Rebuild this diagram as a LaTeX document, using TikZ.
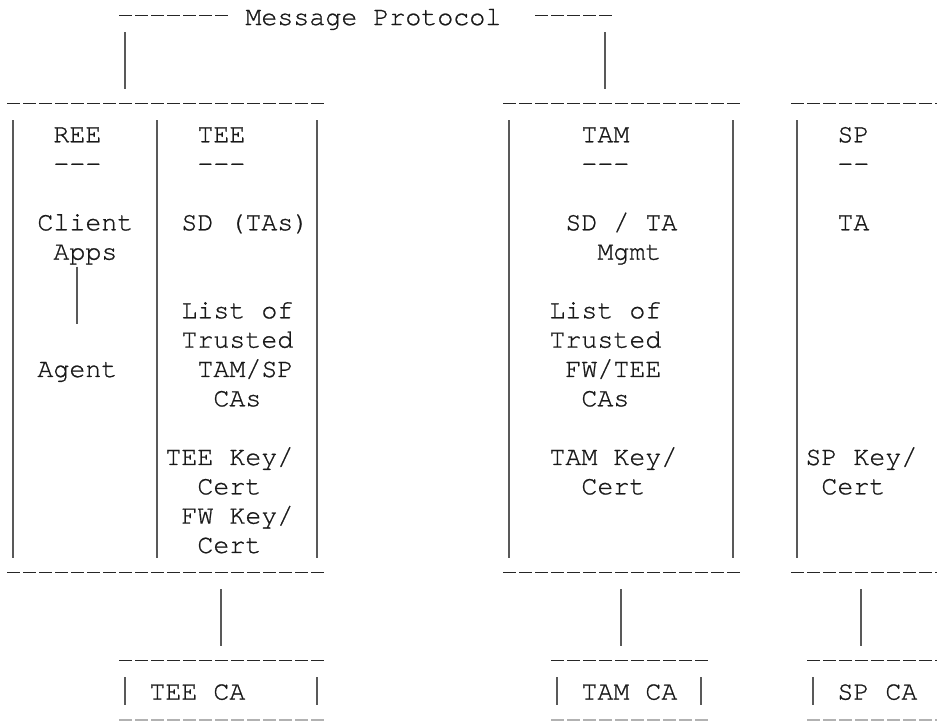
\documentclass[tikz,border=0pt]{standalone}
\usepackage{fontspec}
\newfontfamily\asciifont{TeX Gyre Cursor}[FakeBold=0.8]
\usetikzlibrary{calc}

\begin{document}
\begin{tikzpicture}[
  x=8pt, y=-14.665pt,
  lbl/.style={anchor=base west, inner sep=0pt, font=\asciifont\fontsize{13.33pt}{14.67pt}\selectfont, text=black!90},
  rule/.style={line width=0.8pt, black!85, dash pattern=on 6.25pt off 1.75pt},
  bar/.style={line width=1pt, black!65},
]
\clip (-0.3125,-0.8524) rectangle (58.25,23.696);

% Protocolo de mensajes
\node[lbl] (msg) at (15,0) {Message Protocol};
\draw[rule] (7.15,-0.33) -- (14,-0.33);
\draw[rule] (33.15,-0.33) -- (38,-0.33);
\coordinate (msg-l) at (7.5,0.24);
\coordinate (msg-r) at (37.5,0.24);
\coordinate (dev-top) at (7.5,2.184);
\coordinate (tam-top) at (37.5,2.184);
\draw[bar] (msg-l) -- (dev-top);
\draw[bar] (msg-r) -- (tam-top);

% Cajas: dispositivo, TAM, SP
\foreach \a/\b in {0/19, 31/45, 49/58.5} {
  \draw[rule] (\a+0.15,2.67) -- (\b+1,2.67);
  \draw[rule] (\a+0.15,18.67) -- (\b+1,18.67);
}
\foreach \c in {0,9,19,31,45,49} {
  \draw[bar] (\c+0.5,3.24) -- (\c+0.5,18.184);
}

% REE
\node[lbl] (ree) at (3,4) {REE};
\node[lbl] (ree-ul) at (3,5) {---};
\node[lbl] (client) at (2,7) {Client};
\node[lbl] (apps) at (3,8) {Apps};
\node[lbl] (agent) at (2,12) {Agent};
\coordinate (apps-bot) at (4.5,8.24);
\coordinate (agent-top) at (4.5,10.184);
\draw[bar] (apps-bot) -- (agent-top);

% TEE
\node[lbl] (tee) at (12,4) {TEE};
\node[lbl] (tee-ul) at (12,5) {---};
\node[lbl] (sd-tas) at (11,7) {SD (TAs)};
\node[lbl] (tee-list1) at (11,10) {List of};
\node[lbl] (tee-list2) at (11,11) {Trusted};
\node[lbl] (tee-list3) at (12,12) {TAM/SP};
\node[lbl] (tee-list4) at (13,13) {CAs};
\node[lbl] (tee-key1) at (10,15) {TEE Key/};
\node[lbl] (tee-key2) at (12,16) {Cert};
\node[lbl] (fw-key1) at (11,17) {FW Key/};
\node[lbl] (fw-key2) at (12,18) {Cert};

% TAM
\node[lbl] (tam) at (36,4) {TAM};
\node[lbl] (tam-ul) at (36,5) {---};
\node[lbl] (mgmt1) at (35,7) {SD / TA};
\node[lbl] (mgmt2) at (37,8) {Mgmt};
\node[lbl] (tam-list1) at (34,10) {List of};
\node[lbl] (tam-list2) at (34,11) {Trusted};
\node[lbl] (tam-list3) at (35,12) {FW/TEE};
\node[lbl] (tam-list4) at (36,13) {CAs};
\node[lbl] (tam-key1) at (34,15) {TAM Key/};
\node[lbl] (tam-key2) at (36,16) {Cert};

% SP
\node[lbl] (sp) at (52,4) {SP};
\node[lbl] (sp-ul) at (52,5) {--};
\node[lbl] (sp-ta) at (52,7) {TA};
\node[lbl] (sp-key1) at (50,15) {SP Key/};
\node[lbl] (sp-key2) at (51,16) {Cert};

% Enlaces hacia las CAs
\foreach \c in {13,38,53} {
  \coordinate (ca-up-\c) at (\c+0.5,19.24);
  \coordinate (ca-dn-\c) at (\c+0.5,21.184);
  \draw[bar] (ca-up-\c) -- (ca-dn-\c);
}

% Cajas de CA
\foreach \a/\b in {7/19, 34/43, 50/58.5} {
  \draw[rule] (\a+0.15,21.67) -- (\b+1,21.67);
  \draw[rule, black!30] (\a+0.15,23.70) -- (\b+1,23.70);
}
\foreach \c in {7,19,34,43,50} {
  \draw[bar] (\c+0.5,22.24) -- (\c+0.5,23.184);
}
\node[lbl] (tee-ca) at (9,23) {TEE CA};
\node[lbl] (tam-ca) at (36,23) {TAM CA};
\node[lbl] (sp-ca) at (52,23) {SP CA};

\end{tikzpicture}
\end{document}
